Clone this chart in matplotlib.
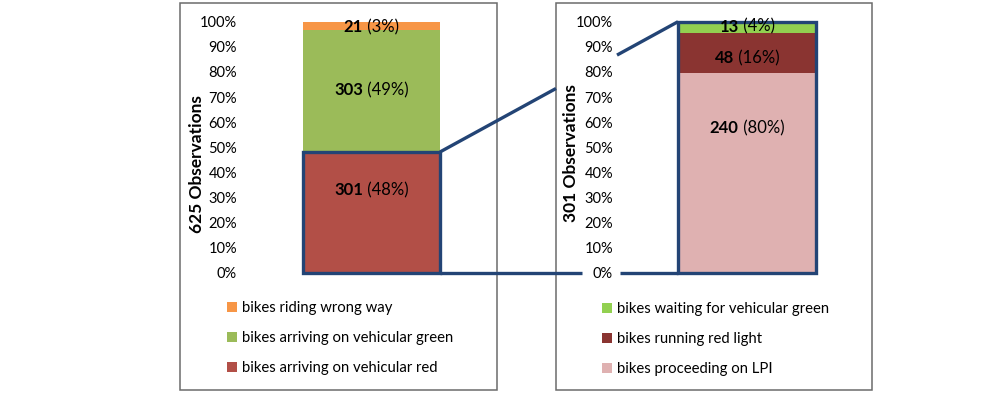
import matplotlib
matplotlib.use("Agg")
import matplotlib.pyplot as plt
from matplotlib.patches import Rectangle, Patch
from matplotlib.lines import Line2D

plt.rcParams['font.family'] = ['Lato', 'DejaVu Sans']

# ---------------- data ----------------
left_counts = [301, 303, 21]
left_pcts_lbl = ["48%", "49%", "3%"]
left_names = ["bikes arriving on vehicular red", "bikes arriving on vehicular green", "bikes riding wrong way"]
left_colors = ["#B24F47", "#9BBB59", "#F79646"]
left_label_y = [33.0, 72.8, 97.8]
left_title = "625 Observations"

right_counts = [240, 48, 13]
right_pcts_lbl = ["80%", "16%", "4%"]
right_names = ["bikes proceeding on LPI", "bikes running red light", "bikes waiting for vehicular green"]
right_colors = ["#DFB1B1", "#8A3431", "#92D050"]
right_label_y = [57.7, 85.5, 98.0]
right_title = "301 Observations"

yticks = list(range(0, 101, 10))
ytick_labels = [f"{t}%" for t in yticks]

BLUE = "#234475"
W, H = 1000, 393

fig = plt.figure(figsize=(W / 100, H / 100), dpi=100)
fig.patch.set_facecolor("white")


def fx(px):
    return px / W


def fy(py):
    return 1 - py / H


ax1 = fig.add_axes([fx(303), fy(273), fx(440) - fx(303), fy(21.7) - fy(273)])
ax2 = fig.add_axes([fx(678), fy(273), fx(816) - fx(678), fy(21.7) - fy(273)])


def draw_bar(ax, counts, colors):
    total = sum(counts)
    pct = [100 * c / total for c in counts]
    bottom = 0
    for p, c in zip(pct, colors):
        ax.bar(0, p, width=1, bottom=bottom, color=c, edgecolor="none", zorder=1)
        bottom += p
    return pct


def setup(ax, pad_pt):
    ax.set_xlim(-0.5, 0.5)
    ax.set_ylim(0, 100)
    ax.set_xticks([])
    ax.set_yticks(yticks)
    ax.set_yticklabels(ytick_labels)
    ax.tick_params(axis="y", length=0, pad=pad_pt, labelsize=10.5)
    for s in ax.spines.values():
        s.set_visible(False)
    ax.patch.set_alpha(0)


lp = draw_bar(ax1, left_counts, left_colors)
rp = draw_bar(ax2, right_counts, right_colors)
setup(ax1, 47.5)
setup(ax2, 46.8)

# blue outlines
ax1.add_patch(Rectangle((-0.5, 0), 1, lp[0], fill=False, edgecolor=BLUE, lw=2.4, clip_on=False, zorder=3))
ax2.add_patch(Rectangle((-0.5, 0), 1, 100, fill=False, edgecolor=BLUE, lw=2.4, clip_on=False, zorder=3))

# titles (rotated)
ax1.text(-0.774, 0.434, left_title, transform=ax1.transAxes, rotation=90, ha="center", va="center",
         fontsize=12.5, fontweight="bold")
ax2.text(-0.775, 0.478, right_title, transform=ax2.transAxes, rotation=90, ha="center", va="center",
         fontsize=12.5, fontweight="bold")

# bar labels: bold count + normal pct
renderer = fig.canvas.get_renderer()


def bar_labels(ax, counts, pcts, ys):
    for c, p, y in zip(counts, pcts, ys):
        tb = ax.text(0, y, f"{c}", fontsize=12, fontweight="bold", ha="left", va="center", zorder=5)
        tn = ax.text(0, y, f" ({p})", fontsize=12, ha="left", va="center", zorder=5)
        wb = tb.get_window_extent(renderer).width
        wn = tn.get_window_extent(renderer).width
        cx, cy = ax.transData.transform((0, y))
        x0 = cx - (wb + wn) / 2
        inv = ax.transData.inverted()
        tb.set_x(inv.transform((x0, cy))[0])
        tn.set_x(inv.transform((x0 + wb, cy))[0])


bar_labels(ax1, left_counts, left_pcts_lbl, left_label_y)
bar_labels(ax2, right_counts, right_pcts_lbl, right_label_y)

# panel boxes
for x0, x1 in [(180, 497), (556, 872)]:
    fig.add_artist(Rectangle((fx(x0), fy(389.5)), fx(x1) - fx(x0), fy(3) - fy(389.5),
                             transform=fig.transFigure, fill=False, edgecolor="#6b6b6b", lw=1.1, zorder=1))

# connector lines
tf = fig.transFigure.inverted()


def to_fig(ax, pt):
    return tf.transform(ax.transData.transform(pt))


A = to_fig(ax1, (0.5, lp[0]))
B = to_fig(ax2, (-0.5, 100))
A2 = to_fig(ax1, (0.5, 0))
B2 = to_fig(ax2, (-0.5, 0))


def y_at(P, Q, x):
    return P[1] + (Q[1] - P[1]) * (x - P[0]) / (Q[0] - P[0])


for (xs, xe) in [(A[0], fx(556)), (fx(617), B[0])]:
    fig.add_artist(Line2D([xs, xe], [y_at(A, B, xs), y_at(A, B, xe)], transform=fig.transFigure,
                          color=BLUE, lw=2.4, solid_capstyle="butt", zorder=2))
for (xs, xe) in [(A2[0], fx(582)), (fx(620), B2[0])]:
    fig.add_artist(Line2D([xs, xe], [A2[1], B2[1]], transform=fig.transFigure,
                          color=BLUE, lw=2.4, solid_capstyle="butt", zorder=2))


# legends
def legend(names, colors, x_px, y_px):
    handles = [Patch(facecolor=c, edgecolor="none") for c in colors][::-1]
    fig.legend(handles, names[::-1], loc="upper left", bbox_to_anchor=(fx(x_px), fy(y_px)),
               bbox_transform=fig.transFigure, frameon=False, fontsize=10.7,
               handlelength=0.68, handleheight=0.68, handletextpad=0.3, labelspacing=1.08,
               borderpad=0, borderaxespad=0)


legend(left_names, left_colors, 227, 301)
legend(right_names, right_colors, 602, 302)

fig.savefig("out.png", dpi=100, facecolor="white")
